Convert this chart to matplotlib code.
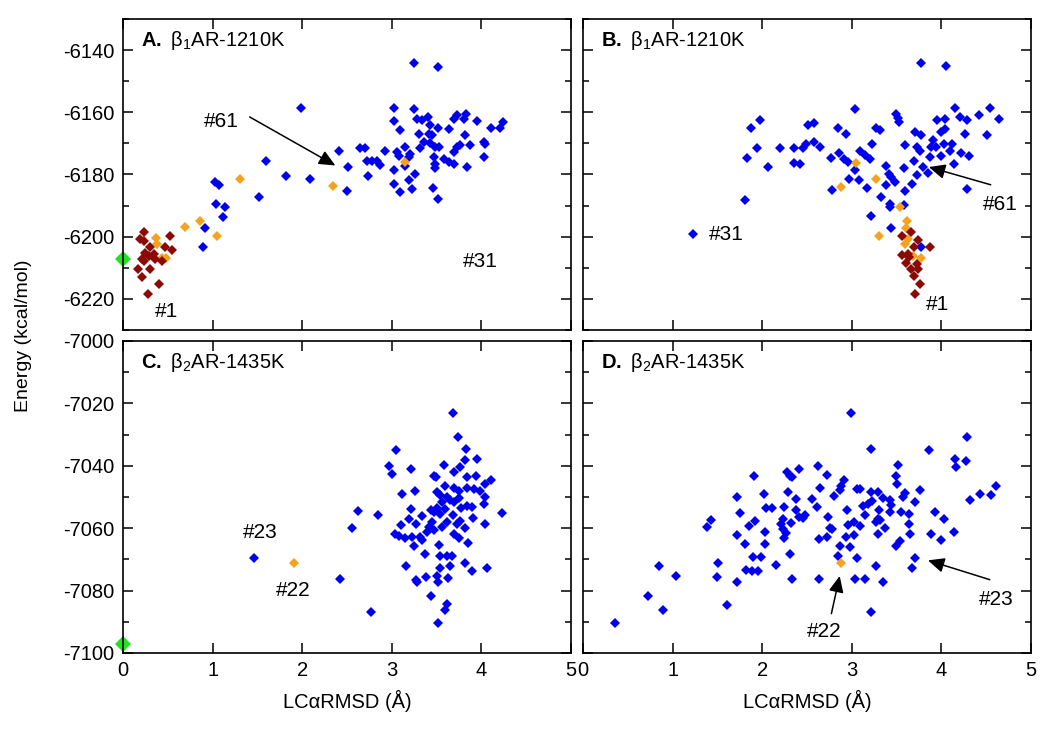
#!/usr/bin/env python3
import matplotlib
matplotlib.use('Agg')
import matplotlib.pyplot as plt
from matplotlib.ticker import MultipleLocator

plt.rcParams['font.family'] = ['Liberation Sans', 'DejaVu Sans']
plt.rcParams['mathtext.fontset'] = 'custom'
plt.rcParams['mathtext.rm'] = 'Liberation Sans'
plt.rcParams['mathtext.bf'] = 'Liberation Sans:bold'
plt.rcParams['axes.unicode_minus'] = False

# ---- data ----
# panel A (beta1)
a_blue_x = [3.244, 3.516, 1.990, 3.028, 3.244, 3.021, 3.088, 3.281, 3.337, 3.404, 3.430, 3.512,
            3.411, 3.449, 3.300, 3.642, 3.690, 3.728, 3.828, 3.802, 3.951, 4.111, 4.204, 4.241,
            3.151, 3.058, 3.077, 3.207, 3.188, 3.311, 3.356, 3.430, 3.478, 3.523, 3.467, 3.486,
            3.478, 3.579, 3.635, 3.690, 3.690, 3.728, 3.765, 3.821, 3.869, 4.025, 4.044, 4.033,
            3.839, 3.512, 3.460, 3.225, 3.188, 3.263, 3.095, 3.021, 3.021, 3.151, 2.920, 2.835,
            2.779, 2.723, 2.865, 2.705, 2.649, 2.734, 2.414, 2.511, 2.500, 2.083, 1.823, 1.596,
            1.518, 1.031, 1.068, 1.038, 1.135, 1.116, 0.919, 0.893]
a_blue_y = [-6144.3, -6145.3, -6158.6, -6158.6, -6158.8, -6162.9, -6165.7, -6162.0, -6162.6, -6161.5,
            -6164.2, -6164.9, -6166.9, -6167.2, -6166.9, -6165.5, -6162.0, -6161.0, -6160.4, -6162.0,
            -6162.8, -6164.9, -6164.9, -6163.2, -6171.0, -6172.8, -6174.2, -6173.5, -6174.4, -6171.5,
            -6169.6, -6169.9, -6171.2, -6171.2, -6174.4, -6176.6, -6178.0, -6174.9, -6176.0, -6176.6,
            -6172.8, -6171.2, -6170.6, -6167.2, -6170.6, -6169.6, -6170.3, -6174.4, -6177.6, -6188.0,
            -6184.4, -6184.6, -6181.9, -6179.8, -6185.5, -6183.0, -6178.7, -6177.3, -6172.4, -6175.5,
            -6175.5, -6175.5, -6176.9, -6171.4, -6171.4, -6180.5, -6172.3, -6177.6, -6185.2, -6181.4,
            -6180.5, -6175.5, -6187.3, -6182.5, -6183.5, -6189.5, -6190.5, -6193.8, -6197.3, -6203.4]
a_orange_x = [1.310, 2.340, 3.144, 0.696, 0.863, 1.049, 0.372, 0.379, 0.435, 0.484]
a_orange_y = [-6181.4, -6183.8, -6176.0, -6197.0, -6194.8, -6199.9, -6200.5, -6202.4, -6206.7, -6206.9]
a_red_x = [0.231, 0.193, 0.231, 0.298, 0.249, 0.212, 0.342, 0.286, 0.435, 0.472, 0.528, 0.547,
           0.164, 0.212, 0.305, 0.398, 0.275, 0.361, 0.231]
a_red_y = [-6198.6, -6200.8, -6201.3, -6203.4, -6205.1, -6207.2, -6205.6, -6206.1, -6207.7, -6203.4,
           -6199.7, -6204.3, -6210.4, -6212.9, -6210.4, -6215.3, -6218.3, -6207.2, -6207.7]
a_green = (0.0, -6207.2)

# panel B
b_blue_x = [3.776, 4.055, 3.032, 4.148, 4.539, 4.639, 4.420, 4.204, 4.286, 4.037, 3.955, 3.497,
            3.516, 3.525, 3.266, 3.311, 2.846, 2.939, 2.511, 2.574, 1.979, 1.879, 1.946, 1.830,
            2.065, 2.195, 2.355, 2.455, 2.485, 2.574, 2.641, 2.355, 2.426, 2.772, 2.853, 2.913,
            2.958, 3.088, 3.144, 3.199, 3.229, 2.783, 2.965, 3.039, 3.080, 3.173, 3.218, 3.385,
            3.415, 3.441, 3.486, 3.385, 3.330, 3.423, 3.430, 3.583, 3.590, 3.672, 3.731, 3.583,
            3.694, 3.795, 3.850, 3.869, 3.731, 3.757, 3.590, 3.710, 3.776, 3.907, 3.888, 3.943,
            3.992, 3.992, 4.045, 4.030, 4.093, 4.122, 4.141, 4.223, 4.305, 4.260, 4.509, 4.290,
            1.812, 1.228, 3.441, 3.776]
b_blue_y = [-6144.1, -6145.2, -6158.8, -6158.6, -6158.6, -6162.3, -6161.0, -6161.5, -6162.6, -6162.3,
            -6162.6, -6160.4, -6161.7, -6163.1, -6164.9, -6165.6, -6164.9, -6167.0, -6164.2, -6163.3,
            -6162.6, -6165.1, -6171.5, -6174.6, -6177.6, -6171.5, -6171.4, -6171.5, -6170.3, -6169.6,
            -6171.0, -6176.2, -6176.6, -6174.8, -6173.0, -6175.1, -6175.9, -6172.5, -6173.8, -6175.1,
            -6170.1, -6184.9, -6181.4, -6178.7, -6181.9, -6184.3, -6193.5, -6177.2, -6179.8, -6180.9,
            -6182.5, -6183.5, -6187.1, -6189.5, -6190.5, -6189.7, -6185.4, -6183.0, -6180.3, -6178.0,
            -6175.5, -6177.6, -6179.6, -6174.4, -6171.2, -6172.3, -6170.6, -6166.3, -6167.4, -6169.0,
            -6171.2, -6171.2, -6174.2, -6166.3, -6165.3, -6170.1, -6172.3, -6170.1, -6176.6, -6173.1,
            -6174.0, -6167.1, -6167.2, -6184.6, -6188.1, -6199.1, -6197.3, -6203.4]
b_orange_x = [3.043, 3.266, 2.883, 3.534, 3.620, 3.609, 3.300, 3.627, 3.590, 3.683, 3.776]
b_orange_y = [-6176.3, -6181.4, -6183.9, -6190.3, -6194.8, -6197.2, -6199.9, -6200.8, -6202.4, -6206.1, -6206.9]
b_red_x = [3.657, 3.564, 3.739, 3.694, 3.869, 3.564, 3.639, 3.609, 3.731, 3.665, 3.739, 3.694,
           3.757, 3.709, 3.627]
b_red_y = [-6198.6, -6199.7, -6201.1, -6203.4, -6203.2, -6205.9, -6206.5, -6208.3, -6208.8, -6210.4,
           -6210.4, -6212.6, -6215.3, -6218.3, -6205.6]

# panel C (beta2)
c_blue_x = [3.683, 3.735, 3.828, 3.043, 3.951, 3.813, 3.757, 3.579, 3.218, 2.969, 3.006, 3.699,
            3.475, 3.497, 3.839, 3.943, 4.107, 4.036, 3.255, 3.114, 3.594, 3.690, 3.746, 3.839,
            3.914, 3.988, 4.044, 3.504, 3.542, 3.616, 3.653, 3.560, 3.690, 3.746, 4.033, 3.839,
            3.895, 3.772, 4.230, 3.504, 3.441, 3.467, 3.542, 3.594, 3.218, 2.623, 2.846, 3.337,
            3.683, 3.906, 3.188, 3.765, 3.274, 3.449, 3.616, 3.728, 4.044, 3.106, 2.556, 3.411,
            3.560, 3.813, 3.040, 3.077, 3.151, 3.225, 3.318, 3.337, 3.394, 3.467, 3.690, 3.746,
            3.850, 3.244, 3.523, 3.374, 3.534, 3.616, 3.671, 3.821, 3.646, 3.534, 3.895, 4.062,
            3.155, 3.274, 3.281, 3.385, 3.504, 3.512, 3.624, 3.438, 3.616, 3.590, 3.512, 2.768,
            2.426, 1.466]
c_blue_y = [-7023.1, -7030.9, -7034.7, -7034.9, -7037.9, -7038.3, -7040.3, -7039.7, -7041.1, -7040.0,
            -7042.7, -7041.9, -7043.3, -7043.5, -7043.7, -7043.2, -7044.5, -7045.9, -7048.1, -7049.0,
            -7046.5, -7047.2, -7048.0, -7047.2, -7047.4, -7048.1, -7049.9, -7048.3, -7049.4, -7049.9,
            -7051.0, -7051.5, -7051.5, -7050.4, -7052.4, -7053.0, -7053.1, -7053.4, -7055.0, -7053.4,
            -7054.2, -7054.9, -7055.3, -7053.7, -7054.0, -7054.5, -7055.8, -7056.1, -7055.8, -7056.7,
            -7057.2, -7057.7, -7058.5, -7057.9, -7057.9, -7058.8, -7058.8, -7059.0, -7059.9, -7059.5,
            -7059.5, -7059.9, -7061.7, -7062.4, -7063.3, -7062.8, -7062.8, -7063.8, -7061.2, -7060.6,
            -7061.7, -7063.3, -7064.9, -7065.7, -7065.4, -7068.4, -7068.9, -7069.0, -7068.9, -7071.1,
            -7072.1, -7072.6, -7073.7, -7072.7, -7072.1, -7076.7, -7077.2, -7075.8, -7075.3, -7077.2,
            -7075.9, -7081.8, -7084.2, -7086.3, -7090.3, -7086.7, -7076.4, -7069.5]
c_orange_x = [1.912]
c_orange_y = [-7071.0]
c_green = (0.0, -7097.1)

# panel D
d_blue_x = [2.988, 4.287, 3.219, 3.859, 4.149, 4.279, 4.167, 3.516, 2.623, 2.407, 2.277, 2.307,
            2.333, 1.909, 2.727, 2.913, 3.498, 3.509, 4.614, 4.428, 4.551, 4.324, 3.758, 2.642,
            2.884, 2.865, 3.063, 3.096, 3.212, 3.293, 2.288, 1.723, 2.020, 2.381, 2.560, 2.802,
            3.349, 3.423, 3.572, 3.591, 3.710, 3.126, 3.181, 3.230, 3.442, 2.616, 2.047, 2.113,
            2.240, 2.381, 2.946, 3.305, 3.423, 3.554, 3.639, 3.926, 1.756, 2.474, 2.456, 2.407,
            2.735, 3.152, 2.233, 3.293, 1.916, 4.030, 1.425, 1.388, 1.849, 2.214, 2.318, 2.233,
            2.753, 2.783, 2.958, 3.020, 3.088, 3.267, 3.312, 3.375, 3.639, 1.723, 2.035, 2.270,
            2.244, 2.634, 2.724, 2.940, 3.026, 3.293, 3.646, 3.888, 4.000, 4.142, 3.535, 3.498,
            1.812, 2.035, 2.865, 2.977, 2.307, 1.897, 1.991, 2.846, 3.063, 3.710, 3.673, 3.274,
            2.151, 1.816, 1.886, 1.953, 1.507, 1.500, 0.848, 1.042, 1.723, 2.337, 2.634, 3.033,
            3.144, 3.349, 0.726, 0.893, 1.607, 3.212, 0.353]
d_blue_y = [-7023.1, -7030.9, -7034.7, -7034.9, -7037.9, -7038.4, -7040.3, -7039.7, -7040.0, -7041.1,
            -7041.9, -7043.2, -7043.5, -7043.3, -7042.8, -7044.5, -7043.3, -7045.9, -7046.5, -7049.0,
            -7049.2, -7050.9, -7047.8, -7047.2, -7046.6, -7047.7, -7047.5, -7047.5, -7048.3, -7048.3,
            -7048.3, -7050.1, -7049.1, -7050.6, -7050.6, -7049.7, -7050.4, -7051.0, -7049.9, -7048.8,
            -7051.7, -7053.0, -7052.1, -7051.4, -7052.6, -7053.1, -7053.4, -7053.4, -7053.3, -7054.2,
            -7054.2, -7054.2, -7054.7, -7054.9, -7055.3, -7054.9, -7055.1, -7055.8, -7056.7, -7056.3,
            -7056.3, -7055.8, -7057.0, -7057.0, -7057.6, -7057.2, -7057.4, -7059.5, -7059.3, -7058.5,
            -7058.3, -7060.1, -7059.9, -7060.1, -7059.0, -7057.9, -7059.3, -7057.9, -7057.4, -7059.8,
            -7058.8, -7062.1, -7061.3, -7061.6, -7063.3, -7063.5, -7062.8, -7062.8, -7062.2, -7061.7,
            -7061.9, -7062.0, -7063.8, -7061.1, -7064.1, -7065.7, -7065.1, -7065.1, -7065.7, -7066.0,
            -7068.4, -7069.2, -7069.2, -7069.0, -7069.4, -7069.5, -7072.7, -7072.2, -7071.9, -7073.5,
            -7073.8, -7073.8, -7071.3, -7075.8, -7072.2, -7075.3, -7077.2, -7076.4, -7076.2, -7076.2,
            -7076.4, -7077.4, -7081.8, -7086.3, -7084.5, -7086.7, -7090.3]
d_orange_x = [2.877]
d_orange_y = [-7071.1]

BLUE = '#0000ee'
ORANGE = '#f5a21e'
DARKRED = '#8b0a05'
GREEN = '#22e022'

fig = plt.figure(figsize=(10.5, 7.31), dpi=100)
W, H = 1050, 731


def make_ax(l, t, r, b):
    return fig.add_axes([l / W, 1 - b / H, (r - l) / W, (b - t) / H])


axA = make_ax(123, 19, 571, 330)
axB = make_ax(583, 19, 1031, 330)
axC = make_ax(123, 341, 571, 653)
axD = make_ax(583, 341, 1031, 653)

ms = 4.8
for ax in (axA, axB, axC, axD):
    ax.set_xlim(0, 5)
    ax.xaxis.set_major_locator(MultipleLocator(1))
    ax.yaxis.set_major_locator(MultipleLocator(20))
    ax.yaxis.set_minor_locator(MultipleLocator(10))
    ax.tick_params(which='both', direction='in', top=True, right=True, labelsize=14.5, pad=6)
    ax.tick_params(which='major', length=7, width=1.1)
    ax.tick_params(which='minor', length=4, width=1.1)
    for s in ax.spines.values():
        s.set_linewidth(1.2)

for ax in (axA, axB):
    ax.set_ylim(-6230, -6130)
    ax.tick_params(labelbottom=False)
for ax in (axC, axD):
    ax.set_ylim(-7100, -7000)
    ax.set_xlabel('LCαRMSD (Å)', fontsize=14.5, labelpad=7)
for ax in (axB, axD):
    ax.tick_params(labelleft=False)
axA.set_yticks([-6220, -6200, -6180, -6160, -6140])
axC.set_yticks([-7100, -7080, -7060, -7040, -7020, -7000])


def pts(ax, x, y, c, size=ms, clip=True):
    ax.plot(x, y, 'D', color=c, markersize=size, markeredgewidth=0, clip_on=clip)


pts(axA, a_blue_x, a_blue_y, BLUE)
pts(axA, a_orange_x, a_orange_y, ORANGE)
pts(axA, a_red_x, a_red_y, DARKRED)
pts(axA, [a_green[0]], [a_green[1]], GREEN, size=8.5, clip=False)

pts(axB, b_blue_x, b_blue_y, BLUE)
pts(axB, b_orange_x, b_orange_y, ORANGE)
pts(axB, b_red_x, b_red_y, DARKRED)

pts(axC, c_blue_x, c_blue_y, BLUE)
pts(axC, c_orange_x, c_orange_y, ORANGE)
pts(axC, [c_green[0]], [c_green[1]], GREEN, size=8.5, clip=False)

pts(axD, d_blue_x, d_blue_y, BLUE)
pts(axD, d_orange_x, d_orange_y, ORANGE)

# panel titles
titles = [(axA, 'A.', r'β$_1$AR-1210K'), (axB, 'B.', r'β$_1$AR-1210K'),
          (axC, 'C.', r'β$_2$AR-1435K'), (axD, 'D.', r'β$_2$AR-1435K')]
for ax, letter, name in titles:
    ax.text(0.04, 0.93, r'$\mathbf{' + letter + '}$ ' + name, transform=ax.transAxes,
            fontsize=14.5, ha='left', va='center')

# annotations
arrow = dict(arrowstyle='-|>,head_length=0.55,head_width=0.25', color='black',
             lw=1.1, mutation_scale=18, shrinkA=0, shrinkB=0)
fs = 15
axA.text(1.10, -6162.8, '#61', fontsize=fs, ha='center', va='center')
axA.annotate('', xy=(2.37, -6177.1), xytext=(1.414, -6161.5), arrowprops=arrow)
axA.text(3.99, -6208.1, '#31', fontsize=fs, ha='center', va='center')
axA.text(0.48, -6223.9, '#1', fontsize=fs, ha='center', va='center')

axB.text(1.60, -6199.4, '#31', fontsize=fs, ha='center', va='center')
axB.text(4.66, -6189.7, '#61', fontsize=fs, ha='center', va='center')
axB.annotate('', xy=(3.86, -6177.6), xytext=(4.55, -6183.3), arrowprops=arrow)
axB.text(3.96, -6221.9, '#1', fontsize=fs, ha='center', va='center')

axC.text(1.53, -7061.4, '#23', fontsize=fs, ha='center', va='center')
axC.text(1.90, -7079.9, '#22', fontsize=fs, ha='center', va='center')

axD.text(2.69, -7093.1, '#22', fontsize=fs, ha='center', va='center')
axD.annotate('', xy=(2.865, -7075.3), xytext=(2.772, -7087.4), arrowprops=arrow)
axD.text(4.61, -7082.8, '#23', fontsize=fs, ha='center', va='center')
axD.annotate('', xy=(3.85, -7070.3), xytext=(4.54, -7076.5), arrowprops=arrow)

fig.text(24 / W, 1 - 336 / H, 'Energy (kcal/mol)', rotation=90, fontsize=14,
         ha='center', va='center')

plt.savefig('out.png', dpi=100)
